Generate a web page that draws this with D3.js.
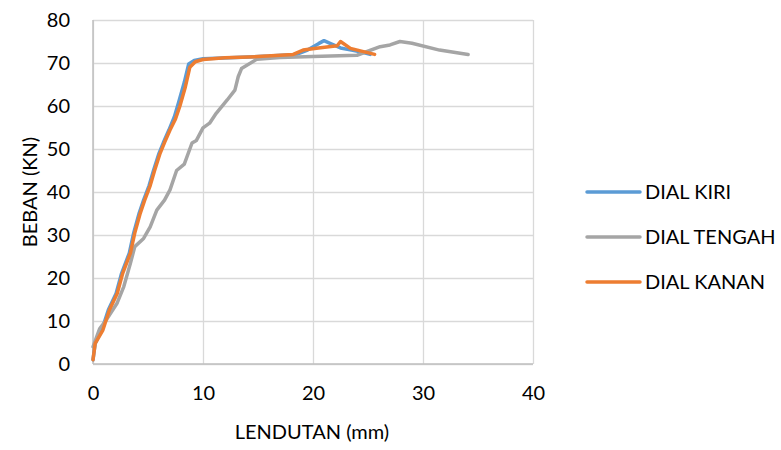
<!DOCTYPE html>
<html>
<head>
<meta charset="utf-8">
<script src="https://cdn.jsdelivr.net/npm/d3@7"></script>
<style>
  body { margin: 0; background: #fff; }
  text { font-family: Lato, "Liberation Sans", Arial, sans-serif; fill: #000; }
</style>
</head>
<body>
<script>
// values
var seriesNames = ["DIAL KIRI", "DIAL TENGAH", "DIAL KANAN"];
var seriesColors = ["#5b9bd5", "#a5a5a5", "#ed7d31"];

var kiriX = [0, 0.2, 0.8, 1.4, 2.1, 2.6, 3.3, 3.7, 4.2, 4.6, 5.1, 5.5, 6.0, 6.4, 6.9, 7.4, 7.8, 8.3, 8.7, 9.2, 10, 13, 16, 18.5, 19.5, 20.5, 21.0, 21.6, 22.5, 23.5, 24.5, 25.2];
var kiriY = [1, 4.8, 7.9, 12.6, 16.4, 21.1, 25.8, 30.5, 35.1, 38.1, 41.5, 45, 49, 51.5, 54.4, 57.5, 61, 65.5, 69.8, 70.6, 71, 71.3, 71.6, 72, 73, 74.5, 75.2, 74.5, 73.5, 73, 72.5, 72];

var tengahX = [0, 0.6, 1.2, 2.2, 2.8, 3.4, 3.8, 4.6, 5.2, 5.8, 6.5, 7.0, 7.6, 8.3, 9.0, 9.4, 10, 10.6, 11.2, 12.2, 12.9, 13.2, 13.5, 14.9, 17, 20, 24, 26.1, 27, 27.9, 29, 31.5, 34.1];
var tengahY = [4, 8.2, 10.2, 14.2, 18, 23.4, 27.3, 29.2, 31.9, 35.8, 38.1, 40.5, 45, 46.5, 51.4, 52, 54.9, 56, 58.3, 61.4, 63.7, 66.8, 68.7, 70.9, 71.3, 71.5, 71.8, 73.8, 74.2, 75, 74.6, 73, 72];

var kananX = [0, 0.2, 0.9, 1.5, 2.2, 2.7, 3.4, 3.8, 4.3, 4.7, 5.2, 5.6, 6.1, 6.5, 7.0, 7.5, 7.9, 8.4, 8.8, 9.3, 10, 12, 15, 18.2, 19.1, 20.5, 22.2, 22.5, 23.4, 24.5, 25.6];
var kananY = [1, 4.8, 7.9, 12.6, 16.4, 21.1, 25.8, 30.5, 35.1, 38.1, 41.5, 45, 49, 51.5, 54.4, 57, 60, 64.5, 69, 70.3, 70.8, 71.2, 71.5, 72, 73, 73.5, 74, 75, 73.4, 72.7, 72];

var xTicks = [0, 10, 20, 30, 40];
var yTicks = [0, 10, 20, 30, 40, 50, 60, 70, 80];

var series = [
  { name: seriesNames[0], color: seriesColors[0], xs: kiriX, ys: kiriY },
  { name: seriesNames[1], color: seriesColors[1], xs: tengahX, ys: tengahY },
  { name: seriesNames[2], color: seriesColors[2], xs: kananX, ys: kananY }
];

var W = 781, H = 450;
var plotL = 93, plotR = 533, plotT = 20, plotB = 364;
var fontSize = "20px";
var fontFam = "Lato, 'Liberation Sans', Arial, sans-serif";

var x = d3.scaleLinear().domain([0, 40]).range([plotL, plotR]);
var y = d3.scaleLinear().domain([0, 80]).range([plotB, plotT]);

var svg = d3.select("body").append("svg")
    .attr("width", W)
    .attr("height", H);

// gridlines
svg.append("g")
    .attr("transform", "translate(0," + plotB + ")")
    .call(d3.axisBottom(x).tickValues(xTicks).tickSize(-(plotB - plotT)).tickFormat(""))
    .call(function(g) {
      g.select(".domain").remove();
      g.selectAll("line").attr("stroke", "#d9d9d9").attr("stroke-width", 1.3);
    });

svg.append("g")
    .attr("transform", "translate(" + plotL + ",0)")
    .call(d3.axisLeft(y).tickValues(yTicks).tickSize(-(plotR - plotL)).tickFormat(""))
    .call(function(g) {
      g.select(".domain").remove();
      g.selectAll("line").attr("stroke", "#d9d9d9").attr("stroke-width", 1.3);
    });

// axis lines
svg.append("line")
    .attr("x1", plotL).attr("x2", plotL).attr("y1", plotT).attr("y2", plotB)
    .attr("stroke", "#bfbfbf").attr("stroke-width", 1.5);
svg.append("line")
    .attr("x1", plotL).attr("x2", plotR).attr("y1", plotB).attr("y2", plotB)
    .attr("stroke", "#bfbfbf").attr("stroke-width", 1.5);

// tick labels
svg.append("g")
    .attr("transform", "translate(0," + plotB + ")")
    .call(d3.axisBottom(x).tickValues(xTicks).tickSize(0).tickPadding(22))
    .call(function(g) {
      g.select(".domain").remove();
      g.selectAll("text").style("font-size", fontSize).attr("fill", "#000")
        .style("font-family", fontFam);
    });

svg.append("g")
    .attr("transform", "translate(" + plotL + ",0)")
    .call(d3.axisLeft(y).tickValues(yTicks).tickSize(0).tickPadding(23))
    .call(function(g) {
      g.select(".domain").remove();
      g.selectAll("text").style("font-size", fontSize).attr("fill", "#000")
        .style("font-family", fontFam);
    });

// lines
var line = d3.line()
    .x(function(d) { return x(d[0]); })
    .y(function(d) { return y(d[1]); });

series.forEach(function(s) {
  var pts = s.xs.map(function(v, i) { return [v, s.ys[i]]; });
  svg.append("path")
      .datum(pts)
      .attr("fill", "none")
      .attr("stroke", s.color)
      .attr("stroke-width", 3.5)
      .attr("stroke-linejoin", "round")
      .attr("stroke-linecap", "round")
      .attr("d", line);
});

// axis titles
svg.append("text")
    .attr("x", 312).attr("y", 439)
    .attr("text-anchor", "middle")
    .style("font-size", fontSize)
    .text("LENDUTAN (mm)");

svg.append("text")
    .attr("transform", "translate(37,192) rotate(-90)")
    .attr("text-anchor", "middle")
    .style("font-size", fontSize)
    .text("BEBAN (KN)");

// legend
var legend = svg.append("g");
series.forEach(function(s, i) {
  var ly = 192 + i * 45;
  legend.append("line")
      .attr("x1", 587).attr("x2", 640).attr("y1", ly).attr("y2", ly)
      .attr("stroke", s.color).attr("stroke-width", 3.5)
      .attr("stroke-linecap", "round");
  legend.append("text")
      .attr("x", 645).attr("y", ly + 7)
      .style("font-size", fontSize)
      .text(s.name);
});
</script>
</body>
</html>
